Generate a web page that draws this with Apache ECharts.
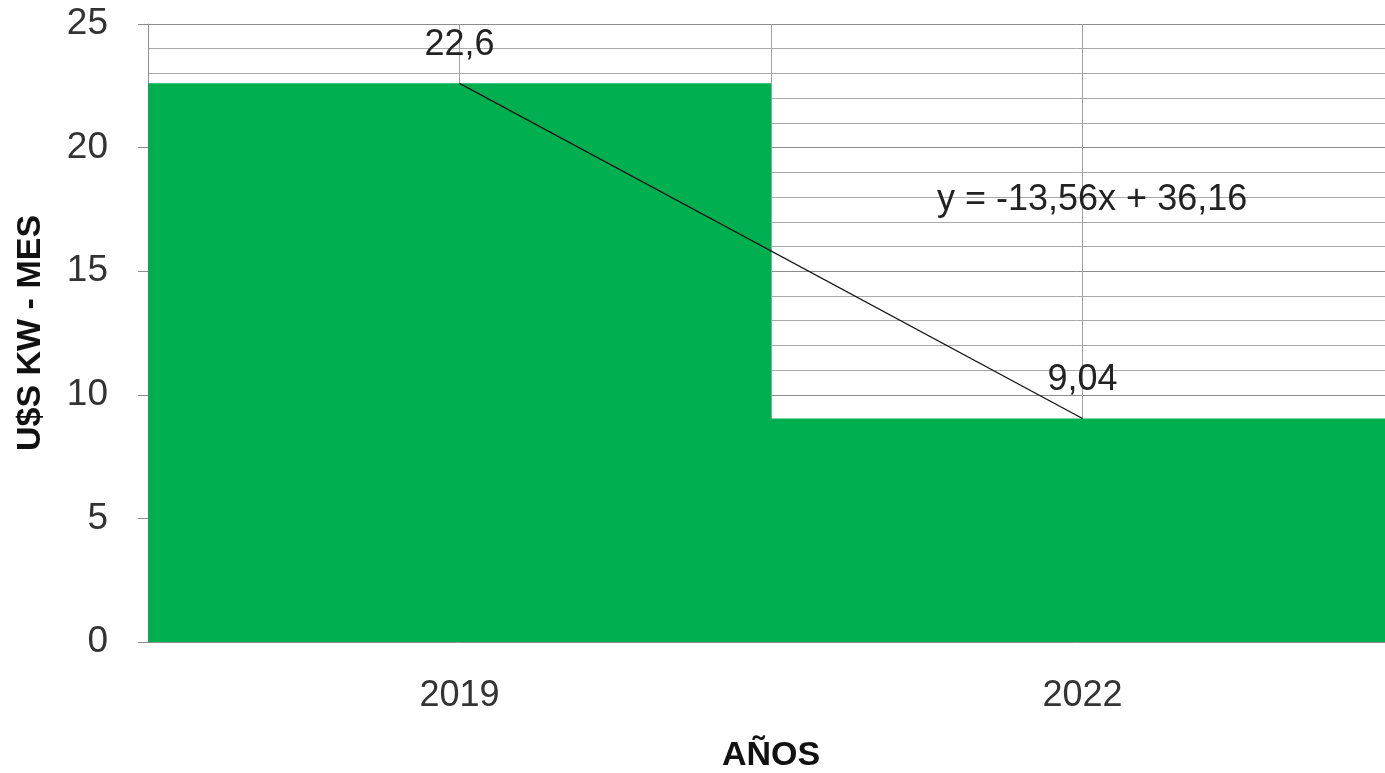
<!DOCTYPE html>
<html>
<head>
<meta charset="utf-8">
<script src="https://cdn.jsdelivr.net/npm/echarts@6/dist/echarts.min.js"></script>
<style>html,body{margin:0;padding:0;background:#fff;}#c{width:1385px;height:773px;}</style>
</head>
<body>
<div id="c"></div>
<script>
const categories = ['2019', '2022'];
const values = [22.6, 9.04];
const yTicks = [0, 5, 10, 15, 20, 25];
const equationText = 'y = -13,56x + 36,16';
const yAxisTitle = 'U$S KW - MES';
const xAxisTitle = 'AÑOS';

// linear trendline (least squares over x = 1..n)
const n = values.length;
const xs = values.map((_, i) => i + 1);
const mx = xs.reduce((a, b) => a + b, 0) / n;
const my = values.reduce((a, b) => a + b, 0) / n;
let num = 0, den = 0;
xs.forEach((x, i) => { num += (x - mx) * (values[i] - my); den += (x - mx) * (x - mx); });
const slope = num / den, intercept = my - slope * mx;
const trend = xs.map(x => +(slope * x + intercept).toFixed(4));

const FONT = 'Liberation Sans';
const fmt = v => String(v).replace('.', ',');

const chart = echarts.init(document.getElementById('c'));
chart.setOption({
  animation: false,
  backgroundColor: '#ffffff',
  textStyle: { fontFamily: FONT },
  grid: { left: 148, top: 24, width: 1246, height: 618, containLabel: false, outerBoundsMode: 'none' },
  xAxis: [{
    type: 'category',
    data: categories,
    boundaryGap: true,
    axisLine: { show: false },
    axisTick: { show: false },
    axisLabel: { fontSize: 36, color: '#333', margin: 36, fontFamily: FONT },
    splitLine: { show: false },
    name: xAxisTitle,
    nameLocation: 'middle',
    nameGap: 97,
    nameTextStyle: { fontSize: 34, fontWeight: 'bold', color: '#111', fontFamily: FONT }
  }, {
    type: 'value',
    min: 0, max: 4, interval: 1,
    show: true,
    position: 'bottom',
    axisLine: { show: false },
    axisTick: { show: false },
    axisLabel: { show: false },
    splitLine: { show: true, lineStyle: { color: '#a0a0a0', width: 1 } }
  }],
  yAxis: {
    type: 'value',
    min: yTicks[0], max: yTicks[yTicks.length - 1], interval: 5,
    axisLine: { show: true, lineStyle: { color: '#8c8c8c', width: 1 } },
    axisTick: { show: true, length: 10, lineStyle: { color: '#8c8c8c' } },
    axisLabel: { fontSize: 37, color: '#333', margin: 40, fontFamily: FONT },
    splitLine: { show: true, lineStyle: { color: '#8c8c8c', width: 1 } },
    minorTick: { show: false, splitNumber: 5 },
    minorSplitLine: { show: true, lineStyle: { color: '#a8a8a8', width: 1 } },
    name: yAxisTitle,
    nameLocation: 'middle',
    nameRotate: 90,
    nameGap: 100,
    nameTextStyle: { fontSize: 34, fontWeight: 'bold', color: '#111', fontFamily: FONT }
  },
  series: [{
    type: 'bar',
    xAxisIndex: 0,
    data: values,
    barWidth: '100%',
    barGap: '0%',
    itemStyle: { color: '#00B050' },
    label: {
      show: true, position: 'top', distance: 20,
      fontSize: 36, color: '#222', fontFamily: FONT,
      formatter: p => fmt(p.value)
    },
    z: 2
  }, {
    type: 'line',
    xAxisIndex: 0,
    data: trend,
    symbol: 'none',
    lineStyle: { color: '#111', width: 1.3 },
    z: 3
  }],
  graphic: [{
    type: 'text',
    left: 937, top: 182,
    style: { text: equationText, font: '36px "Liberation Sans"', fill: '#222' },
    z: 10
  }]
});
</script>
</body>
</html>
